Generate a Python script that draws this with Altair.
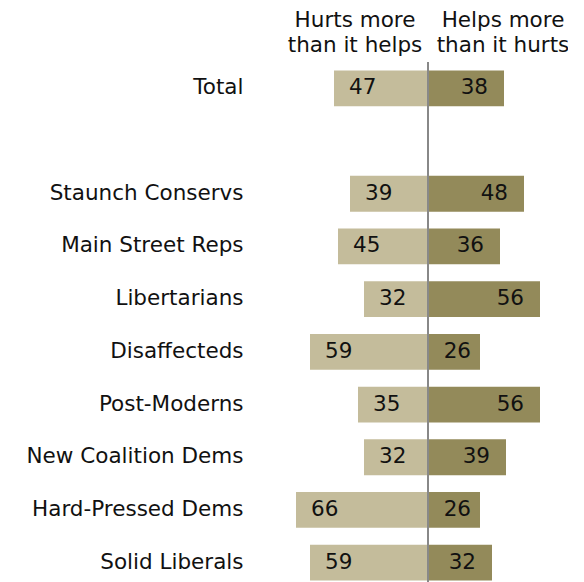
import altair as alt
import pandas as pd

categories = ["Total", " ", "Staunch Conservs", "Main Street Reps", "Libertarians",
              "Disaffecteds", "Post-Moderns", "New Coalition Dems",
              "Hard-Pressed Dems", "Solid Liberals"]
groups = ["Total", "Staunch Conservs", "Main Street Reps", "Libertarians",
          "Disaffecteds", "Post-Moderns", "New Coalition Dems",
          "Hard-Pressed Dems", "Solid Liberals"]
hurts = [47, 39, 45, 32, 59, 35, 32, 66, 59]
helps = [38, 48, 36, 56, 26, 56, 39, 26, 32]
header_hurts = ["Hurts more", "than it helps"]
header_helps = ["Helps more", "than it hurts"]

rows = []
for g, h, p in zip(groups, hurts, helps):
    rows.append({"group": g, "side": "Hurts", "value": h, "x": -h})
    rows.append({"group": g, "side": "Helps", "value": p, "x": p})
df = pd.DataFrame(rows)

FONT = "DejaVu Sans"
FS = 21.5
TXT = "#111111"
xscale = alt.Scale(domain=[-80, 70], nice=False, zero=False)
yenc = alt.Y("group:N",
             scale=alt.Scale(domain=categories, paddingInner=0.32),
             axis=alt.Axis(title=None, ticks=False, domain=False, grid=False,
                           labelFontSize=FS, labelFont=FONT, labelColor=TXT,
                           labelPadding=25, labelLimit=0))

base = alt.Chart(df)

bars = base.mark_bar().encode(
    y=yenc,
    x=alt.X("x:Q", scale=xscale, axis=None),
    x2=alt.datum(0),
    color=alt.Color("side:N",
                    scale=alt.Scale(domain=["Hurts", "Helps"],
                                    range=["#c4bc9b", "#938a5a"]),
                    legend=None),
)

lab_hurts = base.transform_filter(alt.datum.side == "Hurts").mark_text(
    align="left", dx=15, fontSize=FS, font=FONT, color=TXT
).encode(y=alt.Y("group:N"), x=alt.X("x:Q", scale=xscale), text="value:Q")

lab_helps = base.transform_filter(alt.datum.side == "Helps").transform_calculate(
    lx="max(datum.x, 29.5)"
).mark_text(
    align="right", dx=-16, fontSize=FS, font=FONT, color=TXT
).encode(y=alt.Y("group:N"), x=alt.X("lx:Q", scale=xscale), text="value:Q")

rule = alt.Chart(pd.DataFrame({"v": [0]})).mark_rule(
    color="#888888", strokeWidth=2
).encode(x=alt.X("v:Q", scale=xscale))

head1 = alt.Chart(pd.DataFrame({"v": [0]})).mark_text(
    align="center", baseline="alphabetic", fontSize=FS, font=FONT,
    color=TXT, lineHeight=25
).encode(x=alt.datum(-36.5), y=alt.value(-35), text=alt.value(header_hurts))

head2 = alt.Chart(pd.DataFrame({"v": [0]})).mark_text(
    align="center", baseline="alphabetic", fontSize=FS, font=FONT,
    color=TXT, lineHeight=25
).encode(x=alt.datum(37.5), y=alt.value(-35), text=alt.value(header_helps))

chart = alt.layer(bars, lab_hurts, lab_helps, rule, head1, head2).properties(
    width=300, height=527,
    autosize=alt.AutoSizeParams(type="none"),
    padding={"left": 260, "top": 54, "right": 0, "bottom": 0},
).configure_view(stroke=None)

chart.save("out.html", embed_options={"renderer": "svg", "actions": False})
